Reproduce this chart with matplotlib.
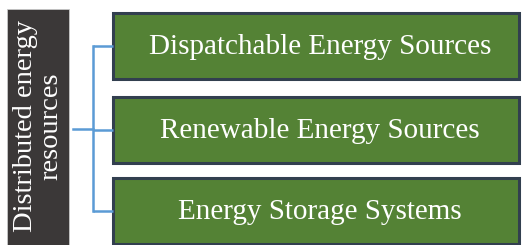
import matplotlib
matplotlib.use("Agg")
import matplotlib.pyplot as plt
from matplotlib.patches import Rectangle

root_label = "Distributed energy\nresources"
child_labels = ["Dispatchable Energy Sources", "Renewable Energy Sources", "Energy Storage Systems"]

W, H = 522, 245
fig = plt.figure(figsize=(W / 100, H / 100), dpi=100)
ax = fig.add_axes([0, 0, 1, 1])
ax.set_xlim(0, W)
ax.set_ylim(H, 0)
ax.axis("off")

serif = ["Liberation Serif", "DejaVu Serif"]
green = "#548235"
edge = "#323f4f"
blue = "#5b9bd5"

# root box
ax.add_patch(Rectangle((7, 9), 62, 240, facecolor="#3b3838", edgecolor="#c8c8c8", lw=0.6))
ax.text(38, 126, root_label, rotation=90, ha="center", va="center", color="white",
        fontsize=20.5, family=serif, linespacing=1.0, multialignment="center")

# child boxes
tops = [13, 97, 178]
h = 66
x0, x1 = 113, 519
vx = 93
centers = []
for t, lab in zip(tops, child_labels):
    c = t + h / 2
    centers.append(c)
    ax.add_patch(Rectangle((x0, t), x1 - x0, h, facecolor=green, edgecolor=edge, lw=2.2))
    ax.text((x0 + x1) / 2 + 4, c + 1, lab, ha="center", va="center", color="white",
            fontsize=21, family=serif)
    ax.plot([vx, x0], [c, c], color=blue, lw=1.8, solid_capstyle="butt")

ax.plot([vx, vx], [centers[0], centers[-1]], color=blue, lw=1.8)
ax.plot([73, vx], [129, 129], color=blue, lw=1.8)

fig.savefig("out.png", dpi=100)
